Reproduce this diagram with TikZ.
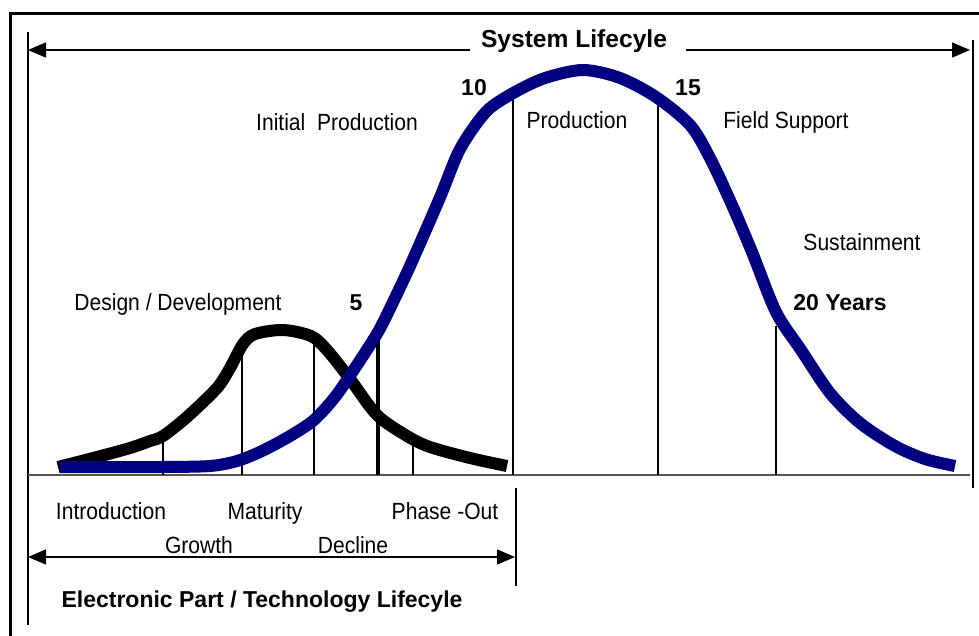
\documentclass[tikz,border=0pt]{standalone}
\usepackage{fontspec}
\setmainfont{Liberation Sans}
\newfontfamily\narrowsans{Liberation Sans}[FakeStretch=0.9]
\usetikzlibrary{arrows.meta}
\definecolor{lifenavy}{RGB}{0,0,128}
\definecolor{axisgray}{RGB}{85,85,85}
\begin{document}
\begin{tikzpicture}[x=1pt,y=-1pt,
  lbl/.style={font=\narrowsans\fontsize{23.4}{26}\selectfont, inner sep=0pt, anchor=base},
  blbl/.style={font=\fontsize{23}{26}\selectfont\bfseries, inner sep=0pt, anchor=base},
  span/.style={line width=1.4pt, -{Triangle[length=18pt,width=15pt]}},
  fence/.style={line width=1.3pt},
  tick/.style={line width=1.3pt},
  heavytick/.style={line width=3.5pt},
  curve/.style={line width=12pt, line join=round}]
\useasboundingbox (0,0) rectangle (979,635);
\clip (0,0) rectangle (979,635);

% outer frame (runs off the page on the right and bottom)
\draw[line width=3pt] (10,13) rectangle (1010,700);

% lifecycle fences
\coordinate (fenceLtop) at (28,32);
\coordinate (fenceLbot) at (28,625);
\coordinate (fenceRtop) at (973,40);
\coordinate (fenceRbot) at (973,488);
\coordinate (fenceMtop) at (516,488);
\coordinate (fenceMbot) at (516,586);
\draw[fence] (fenceLtop) -- (fenceLbot);
\draw[fence] (fenceRtop) -- (fenceRbot);
\draw[fence] (fenceMtop) -- (fenceMbot);

% time axis
\coordinate (axisL) at (28,475);
\coordinate (axisR) at (970,475);
\draw[line width=1.6pt, axisgray] (axisL) -- (axisR);

% system lifecycle span
\node[blbl, font=\fontsize{24.6}{28}\selectfont\bfseries] (systitle) at (574,47) {System Lifecyle};
\coordinate (sysL) at (28,50);
\coordinate (sysR) at (970,50);
\coordinate (sysgapL) at (470,50);
\coordinate (sysgapR) at (686,50);
\draw[span] (sysgapL) -- (sysL);
\draw[span] (sysgapR) -- (sysR);

% electronic part lifecycle span
\coordinate (partL) at (28,557);
\coordinate (partR) at (515,557);
\draw[span, {Triangle[length=18pt,width=15pt]}-{Triangle[length=18pt,width=15pt]}] (partL) -- (partR);
\node[blbl] (parttitle) at (262,607) {Electronic Part / Technology Lifecyle};

% phase markers dropped from the curves to the axis
\foreach \name/\x/\y/\sty in {mA/163/437/tick, mB/242/345/tick, mC/314/338/tick,
  mD/378/330/heavytick, mE/413/440/tick, mG/658/98/tick, mH/776/326/tick}{
  \coordinate (\name top) at (\x,\y);
  \coordinate (\name bot) at (\x,475);
  \draw[\sty] (\name top) -- (\name bot);
}
\coordinate (mFtop) at (513,90);
\coordinate (mFbot) at (513,475);
\draw[line width=2.6pt] (mFtop) -- (mFbot);

% electronic part / technology curve
\draw[curve, black] plot[smooth, tension=0.5] coordinates {
  (58,467) (97,457) (130,448) (150,441) (163,436) (187,417) (217,388) (230,368)
  (243,344) (255,334) (283,330) (311,336) (327,350) (350,379) (377,415) (407,436)
  (430,447) (470,458) (507,466)};

% system curve
\draw[curve, lifenavy] plot[smooth, tension=0.5] coordinates {
  (60,467) (110,467) (163,467) (210,466) (237,461) (262,451) (290,436) (314,420)
  (335,397) (355,368) (378,332) (395,298) (410,266) (425,232) (441,195) (458,153)
  (474,127) (490,108) (515,92) (545,78) (583,70) (620,78) (656,97) (690,125)
  (710,158) (732,205) (752,252) (776,312) (801,350) (830,393) (860,423) (895,446)
  (925,459) (955,466)};

% phase labels
\node[lbl] (initprod) at (337,130) {Initial~ Production};
\node[blbl] (yr10) at (474,95) {10};
\node[lbl] (prod) at (577,128) {Production};
\node[blbl] (yr15) at (688,95) {15};
\node[lbl] (field) at (786,128) {Field Support};
\node[lbl] (sustain) at (862,250) {Sustainment};
\node[blbl] (yr20) at (840,310) {20 Years};
\node[blbl] (yr5) at (356,310) {5};
\node[lbl] (design) at (178,310) {Design / Development};
\node[lbl] (intro) at (111,519) {Introduction};
\node[lbl] (maturity) at (265,519) {Maturity};
\node[lbl] (phaseout) at (445,519) {Phase -Out};
\node[lbl] (growth) at (199,553) {Growth};
\node[lbl] (decline) at (353,553) {Decline};
\end{tikzpicture}
\end{document}
